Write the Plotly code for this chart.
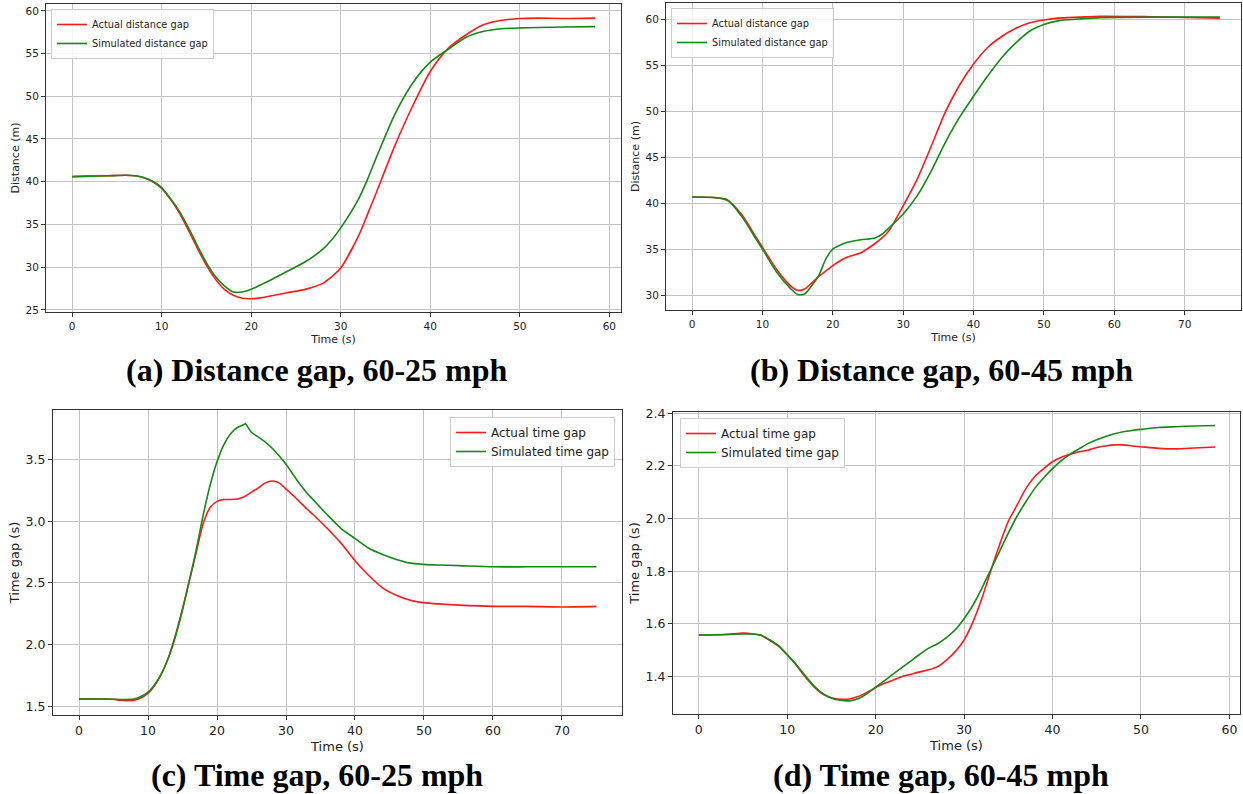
import plotly.graph_objects as go

W, H = 1243, 794

# ---------------- data ----------------
t_a = [0, 2, 4, 6, 7, 8, 9, 10, 11, 12, 13, 14, 15, 16, 17, 18, 19, 20, 21, 22, 24, 26, 28, 29, 30,
       32, 33, 34, 36, 38, 40, 42, 44, 46, 48, 50, 52, 55, 58.4]
actual_a = [40.6, 40.65, 40.7, 40.75, 40.7, 40.45, 40.0, 39.2, 37.9, 36.3, 34.3, 32.2, 30.2, 28.6, 27.4,
            26.7, 26.35, 26.3, 26.4, 26.6, 27.0, 27.4, 28.1, 28.9, 29.9,
            33.7, 36.2, 38.8, 44.1, 48.8, 52.9, 55.6, 57.2, 58.4, 58.9, 59.1, 59.15, 59.1, 59.15]
sim_a = [40.6, 40.65, 40.7, 40.75, 40.7, 40.5, 40.05, 39.3, 38.0, 36.5, 34.6, 32.5, 30.5, 28.9, 27.8,
         27.1, 27.1, 27.4, 27.9, 28.4, 29.5, 30.6, 32.1, 33.2, 34.6,
         38.0, 40.3, 42.9, 47.8, 51.5, 54.0, 55.5, 56.9, 57.6, 57.9, 58.0, 58.05, 58.1, 58.15]

t_b = [0, 3, 5, 7, 9, 10, 12, 14, 15, 16, 17, 18, 19, 20, 21, 22, 24, 26, 27, 28, 30, 32, 34, 36, 38,
       40, 42, 44, 46, 48, 50, 52, 55, 58, 65, 75]
actual_b = [40.65, 40.6, 40.3, 38.8, 36.4, 35.2, 32.8, 31.0, 30.5, 30.65, 31.3, 32.0, 32.6, 33.2, 33.7,
            34.1, 34.6, 35.6, 36.2, 37.0, 39.7, 42.6, 46.2, 49.9, 52.8,
            55.1, 56.9, 58.1, 59.0, 59.6, 59.9, 60.1, 60.2, 60.3, 60.25, 60.1]
sim_b = [40.65, 40.6, 40.35, 38.6, 36.2, 35.0, 32.5, 30.7, 30.05, 30.1, 31.0, 32.1, 33.9, 35.0, 35.4,
         35.7, 36.0, 36.2, 36.6, 37.3, 38.8, 40.8, 43.5, 46.6, 49.3,
         51.6, 53.8, 55.8, 57.4, 58.7, 59.4, 59.8, 60.0, 60.15, 60.2, 60.2]

t_c = [0, 3, 5, 6, 7, 8, 9, 10, 11, 12, 13, 14, 15, 16, 17, 18, 19, 20, 21, 22, 23, 24, 25, 26, 27,
       28, 29, 30, 31, 32, 33, 34, 36, 38, 40, 42, 44, 46, 48, 50, 52, 55, 60, 65, 70, 75]
actual_c = [1.56, 1.56, 1.557, 1.55, 1.545, 1.55, 1.57, 1.605, 1.67, 1.77, 1.90, 2.08, 2.29, 2.52, 2.75,
            2.98, 3.11, 3.16, 3.175, 3.175, 3.18, 3.20, 3.235, 3.27, 3.31,
            3.325, 3.31, 3.26, 3.21, 3.155, 3.10, 3.05, 2.94, 2.82, 2.68, 2.56, 2.46, 2.40, 2.36, 2.34,
            2.33, 2.32, 2.31, 2.31, 2.305, 2.31]
t_c_sim = [0, 3, 5, 6, 7, 8, 9, 10, 11, 12, 13, 14, 15, 16, 17, 18, 19, 20, 21, 22, 23, 24, 24.1, 25,
           26, 27, 28, 29, 30, 31, 32, 33, 34, 36, 38, 40, 42, 44, 46, 48, 50, 52, 55, 60, 65, 70, 75]
sim_c = [1.56, 1.56, 1.558, 1.555, 1.555, 1.56, 1.58, 1.615, 1.68, 1.77, 1.90, 2.07, 2.28, 2.52, 2.77,
         3.05, 3.29, 3.48, 3.62, 3.71, 3.76, 3.785, 3.79, 3.72,
         3.68, 3.64, 3.59, 3.53, 3.46, 3.38, 3.30, 3.23, 3.17, 3.05, 2.94, 2.86, 2.78, 2.73, 2.69, 2.66,
         2.65, 2.645, 2.64, 2.63, 2.63, 2.63, 2.63]

t_d = [0, 3, 5, 6, 7, 8, 9, 10, 11, 12, 13, 14, 15, 16, 17, 18, 19, 20, 21, 22, 23, 24, 25, 26, 27,
       28, 29, 30, 31, 32, 33, 34, 35, 36, 37, 38, 39, 40, 41, 42, 43, 44, 45, 46, 47, 48, 49, 50,
       52, 54, 56, 58.4]
actual_d = [1.558, 1.56, 1.565, 1.563, 1.557, 1.538, 1.516, 1.482, 1.444, 1.40, 1.362, 1.334, 1.32,
            1.314, 1.315, 1.324, 1.34, 1.358, 1.375, 1.387, 1.40, 1.409, 1.418, 1.426, 1.438,
            1.463, 1.495, 1.539, 1.608, 1.696, 1.80, 1.90, 1.99, 2.052, 2.115, 2.16, 2.19, 2.216,
            2.233, 2.244, 2.254, 2.26, 2.27, 2.276, 2.28, 2.28, 2.276, 2.273, 2.267, 2.265, 2.268, 2.272]
sim_d = [1.558, 1.56, 1.562, 1.562, 1.558, 1.54, 1.518, 1.484, 1.447, 1.405, 1.366, 1.336, 1.318,
         1.31, 1.308, 1.316, 1.335, 1.36, 1.385, 1.41, 1.435, 1.46, 1.485, 1.508, 1.525,
         1.548, 1.578, 1.62, 1.671, 1.735, 1.805, 1.875, 1.945, 2.01, 2.065, 2.115, 2.155, 2.19,
         2.22, 2.245, 2.265, 2.285, 2.30, 2.312, 2.322, 2.33, 2.335, 2.339, 2.346, 2.349, 2.352, 2.354]

captions = ["(a) Distance gap, 60-25 mph", "(b) Distance gap, 60-45 mph",
            "(c) Time gap, 60-25 mph", "(d) Time gap, 60-45 mph"]
legend_dist = ["Actual distance gap", "Simulated distance gap"]
legend_time = ["Actual time gap", "Simulated time gap"]

RED = "#ff1a1a"
GREEN = "#138a13"
FONT = "DejaVu Sans"


def px_x(p):
    return p / W


def px_y(p):
    return 1 - p / H


fig = go.Figure()

panels = [
    (t_a, actual_a, t_a, sim_a, legend_dist, "", "legend"),
    (t_b, actual_b, t_b, sim_b, legend_dist, "2", "legend2"),
    (t_c, actual_c, t_c_sim, sim_c, legend_time, "3", "legend3"),
    (t_d, actual_d, t_d, sim_d, legend_time, "4", "legend4"),
]

for ta, ya, ts, ys, names, sfx, lg in panels:
    fig.add_trace(go.Scatter(x=ta, y=ya, mode="lines", name=names[0],
                             line=dict(color=RED, width=1.6, shape="spline", smoothing=0.7),
                             xaxis="x" + sfx, yaxis="y" + sfx, legend=lg))
    fig.add_trace(go.Scatter(x=ts, y=ys, mode="lines", name=names[1],
                             line=dict(color=GREEN, width=1.6, shape="spline", smoothing=0.7),
                             xaxis="x" + sfx, yaxis="y" + sfx, legend=lg))

common = dict(showline=True, linecolor="#333333", linewidth=1, mirror=True,
              ticks="outside", ticklen=4, tickcolor="#333333", tickwidth=1,
              showgrid=True, gridcolor="#c4c4c4", gridwidth=1, zeroline=False,
              automargin=False)

# pixel boxes: (left, right, top, bottom)
boxes = {
    "": (46, 621, 4, 312),
    "2": (666, 1241, 3, 310),
    "3": (53, 622, 410, 715),
    "4": (673, 1240, 412, 714),
}

small = 10.5
big = 12.5

ax_specs = {
    "": dict(xr=[-2.92, 61.3], yr=[24.75, 60.8], xt=list(range(0, 61, 10)), yt=list(range(25, 61, 5)),
             ytitle="Distance (m)", fs=small, yfmt=None),
    "2": dict(xr=[-3.7, 78.0], yr=[28.37, 61.74], xt=list(range(0, 71, 10)), yt=list(range(30, 61, 5)),
              ytitle="Distance (m)", fs=small, yfmt=None),
    "3": dict(xr=[-3.77, 78.7], yr=[1.43, 3.90], xt=list(range(0, 71, 10)), yt=[1.5, 2.0, 2.5, 3.0, 3.5],
              ytitle="Time gap (s)", fs=big, yfmt=".1f"),
    "4": dict(xr=[-2.92, 61.2], yr=[1.258, 2.405], xt=list(range(0, 61, 10)), yt=[1.4, 1.6, 1.8, 2.0, 2.2, 2.4],
              ytitle="Time gap (s)", fs=big, yfmt=".1f"),
}

layout = dict(width=W, height=H, margin=dict(l=0, r=0, t=0, b=0), autosize=False,
              paper_bgcolor="white", plot_bgcolor="white",
              font=dict(family=FONT, color="#222222"))

for sfx, (l, r, t, b) in boxes.items():
    s = ax_specs[sfx]
    xa = dict(common, domain=[px_x(l), px_x(r)], range=s["xr"], tickvals=s["xt"],
              anchor="y" + sfx, tickfont=dict(size=s["fs"], family=FONT),
              title=dict(text="Time (s)", font=dict(size=s["fs"] + 0.5, family=FONT), standoff=4))
    ya = dict(common, domain=[px_y(b), px_y(t)], range=s["yr"], tickvals=s["yt"],
              anchor="x" + sfx, tickfont=dict(size=s["fs"], family=FONT),
              title=dict(text=s["ytitle"], font=dict(size=s["fs"] + 0.5, family=FONT), standoff=3))
    if s["yfmt"]:
        ya["tickformat"] = s["yfmt"]
    layout["xaxis" + sfx] = xa
    layout["yaxis" + sfx] = ya

leg_common = dict(bgcolor="rgba(255,255,255,0.85)", bordercolor="#cccccc", borderwidth=1,
                  tracegroupgap=0, itemwidth=30)
layout["legend"] = dict(leg_common, x=px_x(51), y=px_y(9), xanchor="left", yanchor="top",
                        font=dict(size=9.8, family=FONT))
layout["legend2"] = dict(leg_common, x=px_x(671), y=px_y(8), xanchor="left", yanchor="top",
                         font=dict(size=9.8, family=FONT))
layout["legend3"] = dict(leg_common, x=px_x(615), y=px_y(417), xanchor="right", yanchor="top",
                         font=dict(size=12, family=FONT))
layout["legend4"] = dict(leg_common, x=px_x(680), y=px_y(418), xanchor="left", yanchor="top",
                         font=dict(size=12, family=FONT))

cap_pos = [(317, 370), (941, 370), (317, 775), (941, 775)]
ann = []
for text, (cx, cy) in zip(captions, cap_pos):
    ann.append(dict(text="<b>" + text + "</b>", x=px_x(cx), y=px_y(cy), xref="paper", yref="paper",
                    xanchor="center", yanchor="middle", showarrow=False,
                    font=dict(family="Liberation Serif", size=32, color="black")))
layout["annotations"] = ann

fig.update_layout(**layout)
fig.write_html("out.html", config={"displayModeBar": False},
               post_script="document.body.style.margin='0';document.body.style.padding='0';")
